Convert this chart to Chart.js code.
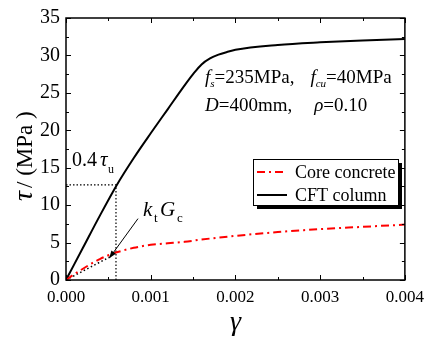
<!DOCTYPE html>
<html>
<head>
<meta charset="utf-8">
<script src="https://cdn.jsdelivr.net/npm/chart.js@4.4.1/dist/chart.umd.min.js"></script>
<style>
  html, body { margin: 0; padding: 0; background: #fff; }
  #wrap { width: 431px; height: 341px; }
</style>
</head>
<body>
<div id="wrap"><canvas id="tauChart" width="431" height="341"></canvas></div>
<script>
// data
const cftGamma = [0, 0.0002, 0.0004, 0.0006, 0.0008, 0.001, 0.0012, 0.0014, 0.0015, 0.0016, 0.0017, 0.0018, 0.0019, 0.002, 0.0025, 0.003, 0.0035, 0.004];
const cftTau   = [0, 4.3, 8.6, 12.7, 16.3, 19.6, 22.8, 26.0, 27.5, 28.8, 29.6, 30.1, 30.45, 30.75, 31.4, 31.75, 32.0, 32.2];
const coreGamma = [0, 0.0001, 0.0002, 0.0003, 0.0004, 0.0005, 0.0006, 0.0008, 0.001, 0.0012, 0.0014, 0.0016, 0.002, 0.0025, 0.003, 0.0035, 0.004];
const coreTau   = [0, 0.8, 1.5, 2.2, 2.8, 3.3, 3.7, 4.3, 4.7, 4.9, 5.1, 5.4, 5.9, 6.4, 6.8, 7.1, 7.4];
const tangentGamma = [0, 0.00052];
const tangentTau = [0, 3.1];
const guideGamma = [0, 0.00059, 0.00059];
const guideTau = [12.7, 12.7, 0];
const xTicks = [0, 0.001, 0.002, 0.003, 0.004];
const yTicks = [0, 5, 10, 15, 20, 25, 30, 35];
const legendNames = ['Core concrete', 'CFT column'];

const pts = (xs, ys) => xs.map((x, i) => ({ x: x, y: ys[i] }));
const serif = '"Liberation Serif", "Times New Roman", serif';

// inward ticks, frame, labels, arrow and legend
const decor = {
  id: 'decor',
  afterDatasetsDraw(chart) {
    const c = chart.ctx, a = chart.chartArea;
    const xs = chart.scales.x, ys = chart.scales.y;
    c.save();
    c.strokeStyle = '#000';
    c.lineWidth = 1.5;
    c.strokeRect(a.left, a.top, a.right - a.left, a.bottom - a.top);
    c.lineWidth = 1;
    for (let v = 0; v <= 0.0040001; v += 0.0005) {
      const px = Math.round(xs.getPixelForValue(v)) + 0.5;
      const major = Math.abs(v / 0.001 - Math.round(v / 0.001)) < 1e-6;
      const len = major ? 5 : 3;
      c.beginPath();
      c.moveTo(px, a.bottom); c.lineTo(px, a.bottom - len);
      c.moveTo(px, a.top); c.lineTo(px, a.top + len);
      c.stroke();
    }
    for (let v = 0; v <= 35; v += 2.5) {
      const py = Math.round(ys.getPixelForValue(v)) + 0.5;
      const len = v % 5 === 0 ? 5 : 3;
      c.beginPath();
      c.moveTo(a.left, py); c.lineTo(a.left + len, py);
      c.moveTo(a.right, py); c.lineTo(a.right - len, py);
      c.stroke();
    }

    // arrow to the tangent
    const x0 = xs.getPixelForValue(0.00085), y0 = ys.getPixelForValue(8.2);
    const x1 = xs.getPixelForValue(0.00051), y1 = ys.getPixelForValue(2.9);
    c.beginPath(); c.moveTo(x0, y0); c.lineTo(x1, y1); c.stroke();
    const ang = Math.atan2(y1 - y0, x1 - x0);
    c.beginPath();
    c.moveTo(x1, y1);
    c.lineTo(x1 - 8 * Math.cos(ang - 0.35), y1 - 8 * Math.sin(ang - 0.35));
    c.lineTo(x1 - 8 * Math.cos(ang + 0.35), y1 - 8 * Math.sin(ang + 0.35));
    c.closePath(); c.fillStyle = '#000'; c.fill();

    // text notes
    c.fillStyle = '#000';
    c.textBaseline = 'alphabetic';
    c.textAlign = 'left';
    c.font = '20px ' + serif;
    c.fillText('0.4', 72, 166);
    c.font = 'italic 21px ' + serif;
    c.fillText('\u03c4', 100, 166);
    c.font = '12px ' + serif;
    c.fillText('u', 108, 173);

    c.font = 'italic 21px ' + serif;
    c.fillText('k', 143, 216);
    c.font = '13px ' + serif;
    c.fillText('t', 154, 222);
    c.font = 'italic 21px ' + serif;
    c.fillText('G', 160, 216);
    c.font = '13px ' + serif;
    c.fillText('c', 177, 222);

    const line = (parts, x, y) => {
      parts.forEach(p => {
        c.font = (p.it ? 'italic ' : '') + p.size + 'px ' + serif;
        c.fillText(p.t, x, y + (p.dy || 0));
        x += c.measureText(p.t).width + (p.gap || 0);
      });
    };
    line([{ t: 'f', it: true, size: 19 }, { t: 's', it: true, size: 11, dy: 4 },
          { t: '=235MPa,', size: 19, gap: 16 },
          { t: 'f', it: true, size: 19 }, { t: 'cu', it: true, size: 11, dy: 4 },
          { t: '=40MPa', size: 19 }], 205, 83);
    line([{ t: 'D', it: true, size: 19 }, { t: '=400mm,', size: 19, gap: 22 },
          { t: '\u03c1', it: true, size: 19 }, { t: '=0.10', size: 19 }], 205, 111);

    // legend box with shadow
    const lx = 253, ly = 159, lw = 145, lh = 46;
    c.fillStyle = '#000';
    c.fillRect(lx + 4, ly + 4, lw, lh);
    c.fillStyle = '#fff';
    c.fillRect(lx, ly, lw, lh);
    c.lineWidth = 1;
    c.strokeRect(lx + 0.5, ly + 0.5, lw, lh);
    const sets = [chart.data.datasets[0], chart.data.datasets[1]];
    sets.forEach((ds, i) => {
      const yy = ly + 13 + i * 23;
      c.strokeStyle = ds.borderColor;
      c.lineWidth = ds.borderWidth;
      c.setLineDash(ds.borderDash || []);
      c.beginPath(); c.moveTo(lx + 4, yy); c.lineTo(lx + 34, yy); c.stroke();
      c.setLineDash([]);
      c.fillStyle = '#000';
      c.font = '18px ' + serif;
      c.fillText(legendNames[i], lx + 42, yy + 6);
    });

    // axis titles
    c.fillStyle = '#000';
    c.font = 'italic 28px ' + serif;
    c.textAlign = 'center';
    c.fillText('\u03b3', (a.left + a.right) / 2, 330);
    c.save();
    c.translate(32, 152);
    c.rotate(-Math.PI / 2);
    c.textAlign = 'left';
    let tx = -49;
    c.font = 'italic 28px ' + serif;
    c.fillText('\u03c4', tx, 0); tx += c.measureText('\u03c4').width + 3;
    c.font = '23px ' + serif;
    c.fillText('/ (MPa )', tx, 0);
    c.restore();
    c.restore();
  }
};

const ctx = document.getElementById('tauChart').getContext('2d');
const tauChart = new Chart(ctx, {
  type: 'line',
  data: {
    datasets: [
      {
        label: legendNames[0],
        data: pts(coreGamma, coreTau),
        borderColor: '#ff0000',
        borderWidth: 2,
        borderDash: [8, 4, 2, 4],
        pointRadius: 0,
        cubicInterpolationMode: 'monotone',
        fill: false
      },
      {
        label: legendNames[1],
        data: pts(cftGamma, cftTau),
        borderColor: '#000000',
        borderWidth: 2,
        pointRadius: 0,
        cubicInterpolationMode: 'monotone',
        fill: false
      },
      {
        label: 'tangent',
        data: pts(tangentGamma, tangentTau),
        borderColor: '#000000',
        borderWidth: 1.5,
        borderDash: [1.5, 2.5],
        pointRadius: 0,
        fill: false
      },
      {
        label: 'guide',
        data: pts(guideGamma, guideTau),
        borderColor: '#000000',
        borderWidth: 1.2,
        borderDash: [1.5, 2],
        pointRadius: 0,
        fill: false
      }
    ]
  },
  options: {
    responsive: false,
    animation: false,
    layout: { padding: { top: 15, right: 24, left: 0, bottom: 0 } },
    plugins: {
      legend: { display: false },
      tooltip: { enabled: false }
    },
    scales: {
      x: {
        type: 'linear',
        min: 0,
        max: 0.004,
        afterFit: s => { s.height = 61; },
        afterBuildTicks: s => { s.ticks = xTicks.map(v => ({ value: v })); },
        grid: { display: false, drawTicks: false },
        border: { display: false },
        ticks: {
          color: '#000',
          padding: 7,
          font: { family: serif, size: 17 },
          callback: v => v.toFixed(3)
        }
      },
      y: {
        type: 'linear',
        min: 0,
        max: 35,
        afterFit: s => { s.width = 66; },
        afterBuildTicks: s => { s.ticks = yTicks.map(v => ({ value: v })); },
        grid: { display: false, drawTicks: false },
        border: { display: false },
        ticks: {
          color: '#000',
          padding: 6,
          font: { family: serif, size: 20 }
        }
      }
    }
  },
  plugins: [decor]
});
</script>
</body>
</html>
